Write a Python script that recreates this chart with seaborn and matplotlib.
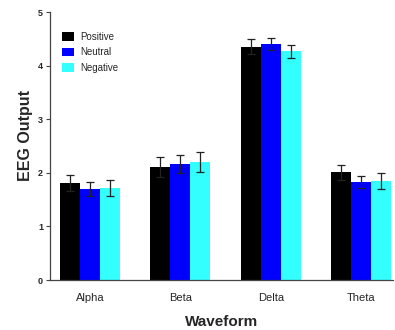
import numpy as np
import pandas as pd
import matplotlib
matplotlib.use("Agg")
import matplotlib.pyplot as plt
import seaborn as sns

# values
waveforms = ["Alpha", "Beta", "Delta", "Theta"]
conditions = ["Positive", "Neutral", "Negative"]
positive = [1.81, 2.11, 4.35, 2.01]
neutral = [1.70, 2.16, 4.40, 1.83]
negative = [1.72, 2.20, 4.27, 1.85]
positive_err = [0.15, 0.18, 0.14, 0.14]
neutral_err = [0.13, 0.17, 0.11, 0.12]
negative_err = [0.15, 0.19, 0.12, 0.15]
colors = ["#000000", "#0000ff", "#33ffff"]

rows = []
for cond, vals, errs in zip(conditions, [positive, neutral, negative],
                            [positive_err, neutral_err, negative_err]):
    for w, v, e in zip(waveforms, vals, errs):
        rows.append({"Waveform": w, "Condition": cond, "EEG": v, "err": e})
df = pd.DataFrame(rows)

sns.set_style("white")
plt.rcParams["font.family"] = ["Liberation Sans", "DejaVu Sans"]

fig = plt.figure(figsize=(3.95, 3.3), dpi=100)
ax = fig.add_axes([0.1266, 0.1515, 0.868, 0.812])

sns.barplot(data=df, x="Waveform", y="EEG", hue="Condition", order=waveforms,
            hue_order=conditions, palette=colors, errorbar=None, width=0.66,
            saturation=1, ax=ax, edgecolor="none")

# error bars from each bar's centre
for cond, container in zip(conditions, ax.containers):
    sub = df[df["Condition"] == cond].set_index("Waveform").loc[waveforms]
    xs = [p.get_x() + p.get_width() / 2 for p in container.patches]
    ax.errorbar(xs, sub["EEG"], yerr=sub["err"], fmt="none", ecolor="#222222",
                elinewidth=0.9, capsize=3.2, capthick=0.9, zorder=5)

ax.set_xlim(-0.44, 3.35)
ax.set_ylim(0, 5)
ax.set_yticks([0, 1, 2, 3, 4, 5])
sns.despine(ax=ax)
for s in ["left", "bottom"]:
    ax.spines[s].set_color("#444444")
    ax.spines[s].set_linewidth(0.9)

ax.tick_params(axis="y", which="major", length=3, width=0.8, color="#444444",
               labelsize=6.5, pad=2, left=True)
ax.tick_params(axis="x", length=0, labelsize=8, pad=9)
for lab in ax.get_yticklabels():
    lab.set_fontweight("bold")

ax.set_xlabel("Waveform", fontsize=11, fontweight="bold", labelpad=9)
ax.set_ylabel("EEG Output", fontsize=11.5, fontweight="bold")
ax.yaxis.set_label_coords(-0.05, 0.54)

ax.legend(loc="upper left", bbox_to_anchor=(0.01, 0.96), frameon=False,
          fontsize=7, handlelength=1.2, handleheight=1.0, handletextpad=0.7,
          labelspacing=0.6)

fig.savefig("out.png", dpi=100)
